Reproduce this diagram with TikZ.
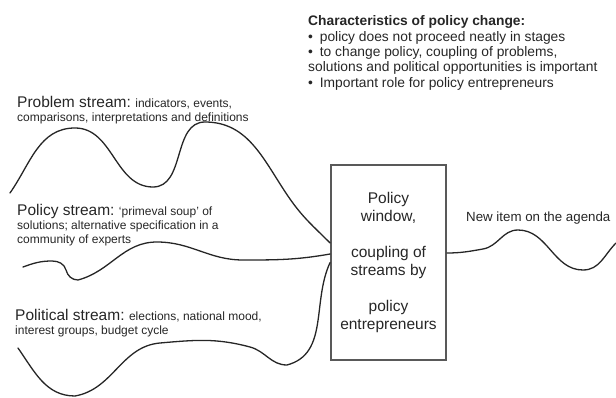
\documentclass[tikz,border=0pt]{standalone}
\usepackage{fontspec}
\setmainfont{Liberation Sans}
\begin{document}
\begin{tikzpicture}[x=1pt,y=1pt,
  stream/.style={draw=black!85, line width=1.3pt, line cap=round},
  lbl/.style={inner sep=0pt, anchor=base west, text=black!85},
  windowbox/.style={draw=black!65, line width=1.8pt, minimum width=115pt, minimum height=195pt,
    align=center, inner sep=0pt, text=black!85, font=\fontsize{15.5}{18.1}\selectfont},
  big/.style={}]
\useasboundingbox (0,0) rectangle (616,397);

% policy window
\node[windowbox] (win) at (388.5,134.5)
  {Policy\\window,\\[18.1pt]coupling of\\streams by\\[18.1pt]policy\\entrepreneurs};

% characteristics
\node[lbl] (chars) at (308,371) {\parbox[t]{310pt}{\fontsize{13.8}{15.3}\selectfont\raggedright
  \textbf{Characteristics of policy change:}\\
  •\hspace{3pt} policy does not proceed neatly in stages\\
  •\hspace{3pt} to change policy, coupling of problems,\\
  solutions and political opportunities is important\\
  •\hspace{3pt} Important role for policy entrepreneurs}};

% stream labels
\node[lbl] (problbl) at (17,289) {\parbox[t]{320pt}{\fontsize{12}{13.8}\selectfont\raggedright
  {\fontsize{15.5}{16}\selectfont Problem stream:} indicators, events,\\
  comparisons, interpretations and definitions}};
\node[lbl] (pollbl) at (17,182) {\parbox[t]{320pt}{\fontsize{12}{14}\selectfont\raggedright
  {\fontsize{15.5}{16}\selectfont Policy stream:} `primeval soup' of\\
  solutions; alternative specification in a\\
  community of experts}};
\node[lbl] (politlbl) at (15,77) {\parbox[t]{320pt}{\fontsize{12}{14.8}\selectfont\raggedright
  {\fontsize{15.5}{16}\selectfont Political stream:} elections, national mood,\\
  interest groups, budget cycle}};
\node[lbl, font=\fontsize{13.3}{15}\selectfont] (newitem) at (466,175.3) {New item on the agenda};

% stream endpoints
\coordinate (ps) at (10,204);
\coordinate (pe) at ([yshift=19.5pt]win.west);
\coordinate (qs) at (23,130);
\coordinate (qe) at ([yshift=8.5pt]win.west);
\coordinate (rs) at (18,49);
\coordinate (re) at (win.west);
\coordinate (os) at ([yshift=9.5pt]win.east);
\coordinate (oe) at (616,154);

% problem stream
\draw[stream] (ps) to[out=55,in=180] (75,269) to[out=0,in=180] (153,210)
  to[out=0,in=180] (205,275) to[out=0,in=125] (290,198) to[out=-55,in=135] (pe);
% policy stream
\draw[stream] (qs) to[out=20,in=180] (52,136) to[out=0,in=105] (66,127)
  to[out=-75,in=180] (78,117) to[out=15,in=180] (157,155)
  to[out=0,in=180] (243,137) to[out=0,in=190] (qe);
% political stream
\draw[stream] (rs) to[out=-55,in=180] (75,1) to[out=10,in=185] (160,54)
  to[out=5,in=165] (250,50) to[out=-15,in=180] (287,32) to[out=15,in=245] (re);
% outcome
\draw[stream] (os) to[out=0,in=190] (483,148) to[out=10,in=180] (518,167)
  to[out=0,in=180] (583,127) to[out=0,in=225] (oe);
\end{tikzpicture}
\end{document}
